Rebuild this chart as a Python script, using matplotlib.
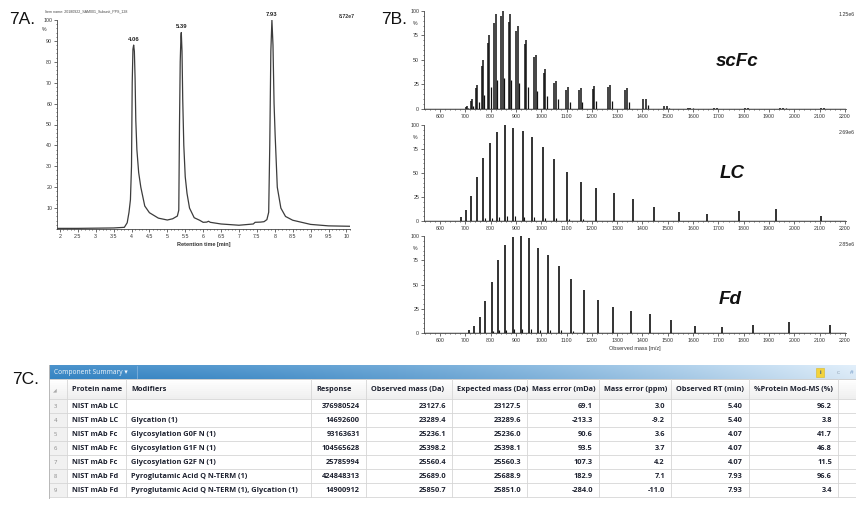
import matplotlib
matplotlib.use('Agg')
import matplotlib.pyplot as plt
import numpy as np
from matplotlib.ticker import MultipleLocator
from matplotlib.patches import Rectangle
import matplotlib.colors as mcolors

W, H = 856, 517

# ---------------- 7A chromatogram ----------------
rt_min = [1.92, 2.5, 3.0, 3.5, 3.8, 3.88, 3.93, 3.97, 4.0, 4.02, 4.04, 4.06, 4.08, 4.1,
          4.12, 4.15, 4.2, 4.26, 4.37, 4.5, 4.75, 5.0, 5.15, 5.28, 5.32, 5.34, 5.36,
          5.38, 5.39, 5.41, 5.43, 5.46, 5.5, 5.55, 5.62, 5.75, 5.9, 6.0, 6.1, 6.15,
          6.2, 6.5, 7.0, 7.4, 7.45, 7.6, 7.7, 7.78, 7.83, 7.86, 7.89, 7.92, 7.95,
          7.98, 8.01, 8.07, 8.17, 8.3, 8.5, 9.0, 9.5, 10.1]
rt_int = [0.3, 0.3, 0.4, 0.5, 0.8, 3, 8, 14, 30, 70, 86, 88, 85, 72,
          52, 38, 27, 20, 11, 7.8, 5.2, 4.3, 4.9, 6.2, 9, 50, 80,
          92, 94, 85, 62, 40, 25, 17, 10, 5.4, 4.2, 3.2, 3.3, 3.7,
          3.2, 2.4, 1.8, 2.4, 3.2, 3.3, 3.5, 4.5, 8, 40, 85, 100, 88,
          60, 45, 20, 10, 6, 4.2, 2.2, 1.5, 1.3]
peak_rt = [4.05, 5.39, 7.92]
peak_lbl = ['4.06', '5.39', '7.93']
peak_h = [88, 94, 100]
rt_ticks = [2, 2.5, 3, 3.5, 4, 4.5, 5, 5.5, 6, 6.5, 7, 7.5, 8, 8.5, 9, 9.5, 10]

# ---------------- 7B spectra ----------------
scfc_g0f_mz = [702.0, 722.0, 743.2, 765.7, 789.6, 815.1, 842.2, 871.2, 902.3, 935.7, 971.6,
               1010.5, 1052.5, 1098.2, 1148.1, 1202.7, 1262.8, 1329.2, 1403.0, 1485.5,
               1578.3, 1683.4, 1803.6, 1942.2, 2104.0]
scfc_g1f_mz = [706.5, 726.7, 748.0, 770.6, 794.7, 820.3, 847.6, 876.8, 908.1, 941.7, 977.9,
               1016.9, 1059.3, 1105.3, 1155.5, 1210.4, 1270.9, 1337.8, 1412.0, 1495.0,
               1588.4, 1694.2, 1815.2, 1954.7, 2117.5]
scfc_g2f_mz = [711.0, 731.3, 752.8, 775.6, 799.8, 825.5, 853.0, 882.4, 913.9, 947.7, 984.1,
               1023.4, 1066.0, 1112.3, 1162.8, 1218.2, 1279.0, 1346.3, 1421.0, 1504.6,
               1598.5, 1705.0, 1826.7, 1967.2, 2131.0]
scfc_g0f_h = [2.5, 8, 21, 44, 67, 88, 95, 89, 80, 66, 53, 37, 27, 19, 19, 20, 22, 19, 10, 3,
              1.2, 0.8, 0.8, 1.2, 0.8]
scfc_g1f_h = [3, 10, 24, 50, 75, 97, 100, 97, 85, 70, 55, 41, 29, 22, 21, 23, 24, 21, 10, 3.5,
              1.5, 1, 1, 1.5, 1]
scfc_g2f_h = [1, 3, 7, 14, 22, 30, 32, 30, 27, 22, 18, 13, 10, 7, 7, 8, 8, 7, 4, 1.5,
              0.6, 0.5, 0.5, 0.6, 0.5]

lc_mz = [681.2, 701.8, 723.7, 747.1, 771.9, 798.5, 827.0, 857.6, 890.5, 926.1, 964.7, 1006.6,
         1052.3, 1102.3, 1157.4, 1218.2, 1285.9, 1361.5, 1446.5, 1542.8, 1653.0, 1780.1,
         1928.3, 2103.5]
lc_h = [4.5, 11.5, 26, 46, 66, 81, 93, 100, 96.5, 94, 87.5, 77, 65, 51, 41, 34, 29, 23, 15,
        9, 7.3, 10.4, 12, 5.5]
lc_gly_mz = [777.3, 804.1, 832.8, 863.6, 896.7, 932.6, 971.4, 1013.6, 1059.6, 1110.0, 1165.5]
lc_gly_h = [3, 3.5, 4.5, 5, 5, 4.5, 4, 3.5, 3, 2.5, 2]

fd_mz = [714.6, 735.0, 756.6, 779.5, 803.8, 829.7, 857.3, 886.8, 918.5, 952.4, 989.0, 1028.6,
         1071.4, 1117.9, 1168.7, 1224.3, 1285.5, 1353.1, 1428.2, 1512.1, 1606.6, 1713.6,
         1835.9, 1977.1, 2141.8]
fd_h = [2.8, 7, 16.5, 33, 53, 75, 91, 99, 100, 97.5, 88, 80, 69, 56, 44, 34, 27, 23, 19.7,
        13.8, 7.6, 6.2, 8, 11.4, 8]
fd_gly_mz = [808.8, 834.9, 862.7, 892.4, 924.2, 958.4, 995.3, 1035.0, 1078.1, 1124.9]
fd_gly_h = [2, 3, 3.5, 4, 4, 4, 3.5, 3, 3, 2.5]

spec_names = ['scFc', 'LC', 'Fd']
spec_scale = ['1.25e6', '2.69e6', '2.85e6']
mz_ticks = list(range(600, 2201, 100))
pct_ticks = [0, 25, 50, 75, 100]

# ---------------- 7C table ----------------
col_headers = ['Protein name', 'Modifiers', 'Response', 'Observed mass (Da)',
               'Expected mass (Da)', 'Mass error (mDa)', 'Mass error (ppm)',
               'Observed RT (min)', '%Protein Mod-MS (%)']
row_ids = ['3', '4', '5', '6', '7', '8', '9']
protein = ['NIST mAb LC', 'NIST mAb LC', 'NIST mAb Fc', 'NIST mAb Fc', 'NIST mAb Fc',
           'NIST mAb Fd', 'NIST mAb Fd']
modifiers = ['', 'Glycation (1)', 'Glycosylation G0F N (1)', 'Glycosylation G1F N (1)',
             'Glycosylation G2F N (1)', 'Pyroglutamic Acid Q N-TERM (1)',
             'Pyroglutamic Acid Q N-TERM (1), Glycation (1)']
response = [376980524, 14692600, 93163631, 104565628, 25785994, 424848313, 14900912]
obs_mass = [23127.6, 23289.4, 25236.1, 25398.2, 25560.4, 25689.0, 25850.7]
exp_mass = [23127.5, 23289.6, 25236.0, 25398.1, 25560.3, 25688.9, 25851.0]
err_mda = [69.1, -213.3, 90.6, 93.5, 107.3, 182.9, -284.0]
err_ppm = [3.0, -9.2, 3.6, 3.7, 4.2, 7.1, -11.0]
obs_rt = [5.40, 5.40, 4.07, 4.07, 4.07, 7.93, 7.93]
pct_mod = [96.2, 3.8, 41.7, 46.8, 11.5, 96.6, 3.4]

# ====================================================================
plt.rcParams['font.family'] = ['Liberation Sans', 'DejaVu Sans']
fig = plt.figure(figsize=(W / 100, H / 100), dpi=100)


def add_ax(l, t, r, b):
    a = fig.add_axes([l / W, 1 - b / H, (r - l) / W, (b - t) / H])
    a.set_facecolor('none')
    return a


ov = fig.add_axes([0, 0, 1, 1])
ov.set_xlim(0, W)
ov.set_ylim(H, 0)
ov.axis('off')

# panel labels
ov.text(9, 19, '7A.', fontsize=12.5, va='center', ha='left', color='#111')
ov.text(381, 20, '7B.', fontsize=12.5, va='center', ha='left', color='#111')
ov.text(12, 379, '7C.', fontsize=12.5, va='center', ha='left', color='#111')

# ---------------- 7A ----------------
axA = add_ax(57, 20, 350, 229)
axA.plot(rt_min, rt_int, color='#3c3c3c', lw=0.9)
axA.set_xlim(1.92, 10.1)
axA.set_ylim(0, 100)
for s in ['top', 'right']:
    axA.spines[s].set_visible(False)
for s in ['left', 'bottom']:
    axA.spines[s].set_linewidth(0.6)
    axA.spines[s].set_color('#444')
axA.set_xticks(rt_ticks)
axA.set_xticklabels(['%g' % v for v in rt_ticks])
axA.xaxis.set_minor_locator(MultipleLocator(0.1))
axA.set_yticks(list(range(10, 101, 10)))
axA.yaxis.set_minor_locator(MultipleLocator(2))
axA.tick_params(labelsize=3.8, length=2, width=0.5, pad=1.5, colors='#333')
axA.tick_params(which='minor', length=1, width=0.4)
axA.set_xlabel('Retention time [min]', fontsize=4, fontweight='bold', labelpad=2, color='#333')
axA.text(-0.035, 0.955, '%', transform=axA.transAxes, ha='right', va='center',
         fontsize=3.8, color='#333')
for t, lbl, h in zip(peak_rt, peak_lbl, peak_h):
    axA.text(t, h + 1.5, lbl, ha='center', va='bottom', fontsize=4.2,
             fontweight='bold', color='#222', clip_on=False)
ov.text(45, 11, 'Item name: 20180922_SAM001_Subunit_PPS_128', fontsize=2.6,
        color='#444', va='center')
ov.text(355, 16, '8.72e7', fontsize=3.8, color='#333', ha='right', va='center',
        fontweight='bold')

# ---------------- 7B ----------------
spec_boxes = [(424, 11, 846, 109), (424, 125, 846, 221), (424, 236, 846, 333)]
name_pos = [(737, 61), (732, 174), (730, 299)]
scale_y = [15, 132, 245]
spec_axes = []
for i, box in enumerate(spec_boxes):
    ax = add_ax(*box)
    spec_axes.append(ax)
    ax.set_xlim(537, 2204)
    ax.set_ylim(0, 100)
    for s in ['top', 'right']:
        ax.spines[s].set_visible(False)
    for s in ['left', 'bottom']:
        ax.spines[s].set_linewidth(0.6)
        ax.spines[s].set_color('#444')
    ax.set_xticks(mz_ticks)
    ax.xaxis.set_minor_locator(MultipleLocator(20))
    ax.set_yticks(pct_ticks)
    ax.yaxis.set_minor_locator(MultipleLocator(5))
    ax.tick_params(labelsize=3.8, length=2, width=0.5, pad=1.5, colors='#333')
    ax.tick_params(which='minor', length=1, width=0.4)
    ax.text(-0.016, 0.87, '%', transform=ax.transAxes, ha='right', va='center',
            fontsize=3.8, color='#333')
    ax.axhline(0.4, color='#111', lw=1.0, zorder=1)
    ov.text(name_pos[i][0], name_pos[i][1], spec_names[i], fontsize=13.5,
            fontweight='bold', fontstyle='italic', ha='center', va='center', color='#111')
    ov.text(855, scale_y[i], spec_scale[i], fontsize=3.8, ha='right', va='center',
            color='#333')

ax0, ax1, ax2 = spec_axes
PK = '#111111'
ax0.vlines(scfc_g2f_mz, 0, scfc_g2f_h, color=PK, lw=0.9)
ax0.vlines(scfc_g0f_mz, 0, scfc_g0f_h, color=PK, lw=1.1)
ax0.vlines(scfc_g1f_mz, 0, scfc_g1f_h, color=PK, lw=1.1)
ax1.vlines(lc_gly_mz, 0, lc_gly_h, color=PK, lw=0.8)
ax1.vlines(lc_mz, 0, lc_h, color=PK, lw=1.2)
ax2.vlines(fd_gly_mz, 0, fd_gly_h, color=PK, lw=0.8)
ax2.vlines(fd_mz, 0, fd_h, color=PK, lw=1.2)
ax2.set_xlabel('Observed mass [m/z]', fontsize=4, labelpad=2, color='#333')

# ---------------- 7C table ----------------
TL, TR = 49, 856
title_top, title_bot = 365, 379
head_bot = 399
row_h = 14.0
seps = [49, 67, 126, 311, 366, 452, 527, 599, 671, 749, 838]
aligns = ['left', 'left', 'right', 'right', 'right', 'right', 'right', 'right', 'right']
TFONT = ['Open Sans', 'DejaVu Sans']
TCOL = '#1e2230'

# title bar gradient
c1 = np.array(mcolors.to_rgb('#3684c2'))
c2 = np.array(mcolors.to_rgb('#d9e8f5'))
gx = np.linspace(0, 1, 200)[None, :, None] ** 1.6
gy = np.linspace(0, 1, 12)[:, None, None]
grad = c1 + (c2 - c1) * gx
grad = grad * (0.92 + 0.08 * gy) + 0.10 * (1 - gy)
grad = np.clip(grad, 0, 1)
ov.imshow(grad, extent=(TL, TR, title_bot, title_top), aspect='auto', zorder=1,
          interpolation='bilinear')
ov.plot([137, 137], [title_top + 1, title_bot - 1], color='#7fb0dc', lw=0.6, zorder=2)
ov.text(TL + 5, (title_top + title_bot) / 2 + 0.5, 'Component Summary ▾', fontsize=4.8,
        color='#eef5fc', va='center', ha='left', family=TFONT, zorder=3)
ov.add_patch(Rectangle((816, 368), 8, 9, facecolor='#f3d33c', edgecolor='#d8b82a',
                       lw=0.4, zorder=3))
ov.text(820, 372.8, 'i', fontsize=4, color='#2a4f8a', ha='center', va='center', zorder=4,
        fontweight='bold')
ov.text(838, 372.5, 'c', fontsize=4.2, color='#9ab', ha='center', va='center', zorder=4)
ov.text(852, 372.5, '#', fontsize=4.6, color='#6f97c4', ha='center', va='center', zorder=4)

# header row background
hg = np.linspace(1.0, 0.94, 10)[:, None, None] * np.ones((10, 2, 3))
ov.imshow(hg, extent=(TL, TR, head_bot, title_bot), aspect='auto', zorder=1)
# row-number column background
n_rows = len(row_ids)
table_bot = head_bot + n_rows * row_h
ov.add_patch(Rectangle((TL, head_bot), seps[1] - TL, table_bot - head_bot,
                       facecolor='#f1f1f1', edgecolor='none', zorder=1))
# grid lines
GL = '#d6d6d6'
for k in range(n_rows + 1):
    yy = head_bot + k * row_h
    ov.plot([TL, TR], [yy, yy], color=GL, lw=0.6, zorder=2)
ov.plot([TL, TR], [title_bot, title_bot], color='#c8c8c8', lw=0.6, zorder=2)
for xs in seps:
    ov.plot([xs, xs], [title_bot, table_bot], color=GL, lw=0.6, zorder=2)
ov.plot([TL, TL], [title_top, table_bot + 1], color='#b8b8b8', lw=0.7, zorder=2)

# header texts
hy = (title_bot + head_bot) / 2 + 0.5
ov.text(53, hy, '◢', fontsize=3.5, color='#aaa', ha='left', va='center',
        family=['DejaVu Sans'], zorder=3)
for j, htxt in enumerate(col_headers):
    l = seps[j + 1]
    ov.text(l + 5, hy, htxt, fontsize=5.3, fontweight='bold', color=TCOL,
            ha='left', va='center', family=TFONT, zorder=3)

# cell texts
cols = [protein, modifiers,
        [str(v) for v in response],
        ['%.1f' % v for v in obs_mass],
        ['%.1f' % v for v in exp_mass],
        ['%.1f' % v for v in err_mda],
        ['%.1f' % v for v in err_ppm],
        ['%.2f' % v for v in obs_rt],
        ['%.1f' % v for v in pct_mod]]
for i in range(n_rows):
    yc = head_bot + (i + 0.5) * row_h + 0.3
    ov.text(54, yc, row_ids[i], fontsize=4.2, color='#888', ha='left', va='center',
            family=TFONT, zorder=3)
    for j, col in enumerate(cols):
        l, r = seps[j + 1], seps[j + 2]
        if aligns[j] == 'left':
            x, ha = l + 5, 'left'
        else:
            x, ha = r - 6, 'right'
        ov.text(x, yc, col[i], fontsize=5.3, fontweight='bold', color=TCOL,
                ha=ha, va='center', family=TFONT, zorder=3)

ov.set_xlim(0, W)
ov.set_ylim(H, 0)

fig.savefig('out.png', dpi=100)
